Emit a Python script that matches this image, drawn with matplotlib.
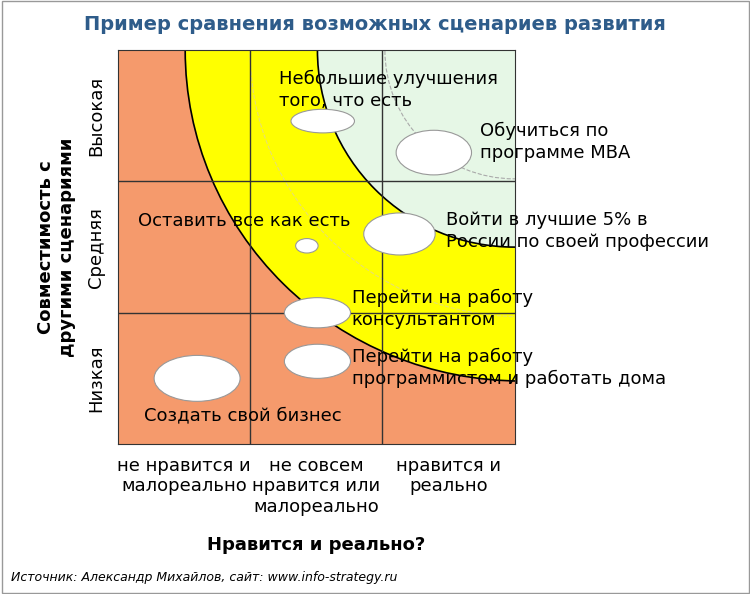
import matplotlib
matplotlib.use("Agg")
import matplotlib.pyplot as plt
from matplotlib.patches import Ellipse, Arc, Rectangle

title = "Пример сравнения возможных сценариев развития"
x_labels = ["не нравится и\nмалореально", "не совсем\nнравится или\nмалореально", "нравится и\nреально"]
y_labels = ["Низкая", "Средняя", "Высокая"]
x_title = "Нравится и реально?"
y_title = "Совместимость с\nдругими сценариями"
footer = "Источник: Александр Михайлов, сайт: www.info-strategy.ru"

# scenarios: name, x, y, width, height, label x, label y
names = ["Небольшие улучшения\nтого, что есть", "Обучиться по\nпрограмме MBA",
         "Войти в лучшие 5% в\nРоссии по своей профессии", "Оставить все как есть",
         "Перейти на работу\nконсультантом", "Перейти на работу\nпрограммистом и работать дома",
         "Создать свой бизнес"]
bx = [1.55, 2.39, 2.13, 1.43, 1.51, 1.51, 0.60]
by = [2.46, 2.22, 1.60, 1.51, 1.00, 0.63, 0.50]
bw = [0.48, 0.57, 0.54, 0.17, 0.50, 0.50, 0.65]
bh = [0.18, 0.34, 0.32, 0.11, 0.23, 0.26, 0.35]
lx = [1.22, 2.74, 2.48, 0.15, 1.77, 1.77, 0.20]
ly = [2.70, 2.30, 1.62, 1.70, 1.03, 0.58, 0.22]

fig = plt.figure(figsize=(7.5, 5.94), dpi=100)
fig.patches.append(Rectangle((0.002, 0.002), 0.996, 0.996, transform=fig.transFigure,
                             fill=False, ec="#999999", lw=1))
ax = fig.add_axes([0.157, 0.2525, 0.529, 0.663])
ax.set_xlim(0, 3); ax.set_ylim(0, 3)
ax.add_patch(Rectangle((0, 0), 3, 3, fc="#F59A6C", ec="none", zorder=0))
ax.add_patch(Ellipse((3.05, 3), 2 * 2.54, 2 * 2.52, fc="#FFFF00", ec="black", lw=1.2, zorder=1))
ax.add_patch(Arc((3.05, 3), 2 * 2.05, 2 * 2.03, ec="#E8E070", lw=0.8, ls="--", zorder=1.5))
ax.add_patch(Ellipse((3, 3), 2 * 1.49, 2 * 1.5, fc="#E6F7E6", ec="black", lw=1.2, zorder=2))
ax.add_patch(Arc((3, 3), 2 * 0.98, 2 * 0.98, ec="#AAAAAA", lw=0.8, ls="--", zorder=2.5))
for v in [1, 2]:
    ax.axvline(v, color="#333333", lw=1, zorder=3)
    ax.axhline(v, color="#333333", lw=1, zorder=3)
for i in range(len(names)):
    ax.add_patch(Ellipse((bx[i], by[i]), bw[i], bh[i], fc="white", ec="#999999", lw=0.8, zorder=4))
    ax.text(lx[i], ly[i], names[i], fontsize=13, ha="left", va="center", zorder=5, linespacing=1.3)
ax.set_xticks([0.5, 1.5, 2.5]); ax.set_xticklabels(x_labels, fontsize=13, linespacing=1.2)
ax.set_yticks([0.5, 1.5, 2.5]); ax.set_yticklabels(y_labels, fontsize=13, rotation=90, va="center")
ax.tick_params(length=0, pad=9)
for s in ax.spines.values():
    s.set_color("#333333")
ax.set_xlabel(x_title, fontsize=13, fontweight="bold", labelpad=14)
ax.set_ylabel(y_title, fontsize=13, fontweight="bold", labelpad=8)
fig.text(0.5, 0.958, title, ha="center", va="center", fontsize=14, fontweight="bold", color="#2E5C8A")
fig.text(0.015, 0.028, footer, ha="left", va="center", fontsize=9, style="italic")
fig.savefig("out.png")
